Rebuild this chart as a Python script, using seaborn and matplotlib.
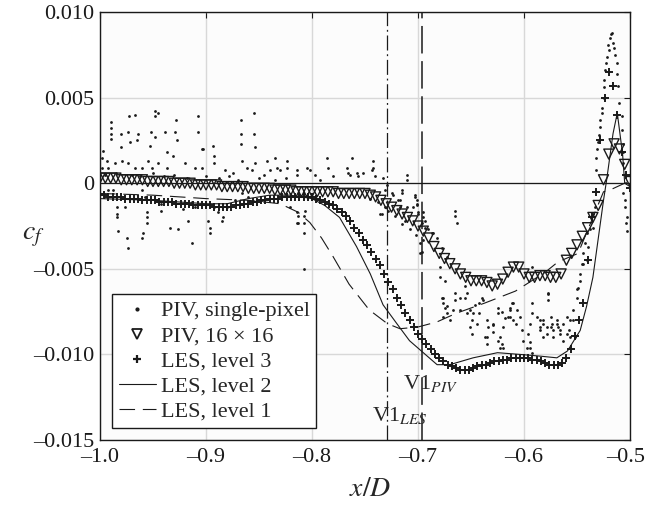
import numpy as np
import matplotlib
matplotlib.use("Agg")
import matplotlib.pyplot as plt
import matplotlib.transforms as mtransforms
from matplotlib.lines import Line2D
from matplotlib.ticker import FuncFormatter
import seaborn as sns

# PIV single-pixel (scattered points)
piv_sp_x = [
    -0.990, -0.990, -0.990, -0.990, -0.973, -0.967, -0.948, -0.945, -0.948,
    -0.928, -0.929, -0.927, -0.908, -0.908, -0.904, -0.867, -0.867, -0.867,
    -0.855, -0.855, -0.854, -0.939, -0.952, -0.964, -0.965, -0.974, -0.980,
    -0.980, -0.972, -0.953, -0.948, -0.937, -0.931, -0.937, -0.920, -0.910,
    -0.904, -0.903, -0.893, -0.892, -0.892, -0.882, -0.875, -0.866, -0.861,
    -0.857, -0.854, -0.842, -0.840, -0.998, -0.997, -0.993, -0.998, -0.992,
    -0.986, -0.979, -0.974, -0.967, -0.960, -0.955, -0.951, -0.945,
    -0.995, -0.985, -0.970, -0.962, -0.950, -0.940, -0.930, -0.918, -0.900,
    -0.888, -0.878, -0.870, -0.850, -0.845, -0.835, -0.825,
    -0.992, -0.988, -0.984, -0.984, -0.984, -0.983, -0.975, -0.976, -0.960,
    -0.958, -0.956, -0.956, -0.956, -0.959, -0.942, -0.942, -0.934, -0.926,
    -0.922, -0.917, -0.913, -0.910, -0.898, -0.896, -0.896, -0.892, -0.889,
    -0.885, -0.884, -0.880, -0.873, -0.866, -0.860, -0.847, -0.974, -0.960,
    -0.913, -0.808,
    -0.835, -0.833, -0.830, -0.824, -0.824, -0.814, -0.814, -0.805, -0.802,
    -0.797, -0.792, -0.786, -0.785, -0.780, -0.767, -0.764, -0.762, -0.757,
    -0.752, -0.743, -0.742, -0.741, -0.733, -0.710, -0.710, -0.766, -0.758,
    -0.742, -0.715, -0.715, -0.703, -0.701, -0.695, -0.693, -0.665, -0.665,
    -0.663, -0.734,
    -0.821, -0.813, -0.813, -0.808, -0.807, -0.736, -0.731, -0.725, -0.719,
    -0.717, -0.712, -0.703, -0.701, -0.700, -0.695, -0.693, -0.687, -0.814,
    -0.808, -0.814, -0.808, -0.729, -0.731, -0.724, -0.717, -0.710, -0.705,
    -0.701, -0.700, -0.696, -0.695, -0.696, -0.691, -0.686, -0.682, -0.677,
    -0.679, -0.676, -0.675, -0.745, -0.738, -0.728, -0.722, -0.715, -0.708,
    -0.702,
    -0.698, -0.698, -0.673, -0.679, -0.677, -0.676, -0.673, -0.673, -0.670,
    -0.676, -0.665, -0.665, -0.660, -0.656, -0.654, -0.654, -0.649, -0.651,
    -0.648, -0.646, -0.642, -0.639, -0.635, -0.635, -0.634, -0.629, -0.629,
    -0.625, -0.623, -0.620, -0.625, -0.621, -0.618, -0.613, -0.613, -0.610,
    -0.610, -0.607, -0.604, -0.602, -0.601, -0.597, -0.594, -0.592, -0.592,
    -0.588, -0.585, -0.585, -0.582, -0.582, -0.578, -0.577, -0.575, -0.574,
    -0.573, -0.569, -0.568, -0.566, -0.563, -0.559, -0.558, -0.557, -0.554,
    -0.554, -0.550, -0.549, -0.547, -0.545, -0.544, -0.542, -0.541,
    -0.675, -0.667, -0.660, -0.656, -0.651, -0.649, -0.644, -0.642, -0.640,
    -0.637, -0.635, -0.629, -0.625, -0.623, -0.621, -0.620, -0.615, -0.613,
    -0.611, -0.608, -0.596, -0.594, -0.592, -0.592, -0.585, -0.582, -0.578,
    -0.575, -0.573, -0.569, -0.566, -0.563, -0.559, -0.557, -0.552, -0.550,
    -0.547, -0.544, -0.541, -0.540, -0.538, -0.535, -0.535, -0.533, -0.577,
    -0.577, -0.594,
    -0.517, -0.519, -0.516, -0.521, -0.520, -0.514, -0.522, -0.523, -0.512,
    -0.524, -0.512, -0.525, -0.511, -0.525, -0.525, -0.510, -0.526, -0.526,
    -0.508, -0.528, -0.528, -0.508, -0.529, -0.530, -0.507, -0.507, -0.507,
    -0.531, -0.532, -0.532, -0.507, -0.505, -0.505, -0.503, -0.504, -0.503,
    -0.518, -0.515,
]
piv_sp_y = [
    0.0036, 0.0032, 0.0029, 0.0026, 0.0039, 0.0040, 0.0042, 0.0041, 0.0039,
    0.0037, 0.0030, 0.0025, 0.0039, 0.0030, 0.0020, 0.0037, 0.0029, 0.0023,
    0.0041, 0.0029, 0.0021, 0.0030, 0.0030, 0.0029, 0.0025, 0.0030, 0.0029,
    0.0021, 0.0024, 0.0022, 0.0027, 0.0018, 0.0016, 0.0009, 0.0012, 0.0009,
    0.0009, 0.0020, 0.0022, 0.0016, 0.0012, 0.0008, 0.0006, 0.0013, 0.0009,
    0.0008, 0.0012, 0.0013, 0.0008, 0.0015, 0.0019, 0.0013, 0.0009, 0.0009,
    0.0012, 0.0013, 0.0012, 0.0009, 0.0009, 0.0013, 0.0009, 0.0012,
    0.0005, 0.0006, 0.0005, 0.0004, 0.0006, 0.0004, 0.0005, 0.0003, 0.0004,
    0.0003, 0.0004, 0.0002, 0.0003, 0.0005, 0.0002, 0.0003,
    -0.0004, -0.0004, -0.0014, -0.0018, -0.0020, -0.0028, -0.0032, -0.0014, -0.0004,
    -0.0008, -0.0017, -0.0020, -0.0023, -0.0029, -0.0016, -0.0012, -0.0026, -0.0027,
    -0.0015, -0.0022, -0.0011, -0.0014, -0.0022, -0.0026, -0.0029, -0.0014, -0.0017,
    -0.0022, -0.0020, -0.0014, -0.0010, -0.0006, -0.0008, -0.0010, -0.0038, -0.0032,
    -0.0035, -0.0050,
    0.0015, 0.0009, 0.0008, 0.0013, 0.0009, 0.0008, 0.0005, 0.0009, 0.0008,
    0.0005, 0.0002, 0.0015, 0.0009, 0.0004, 0.0009, 0.0005, 0.0015, 0.0004,
    0.0006, 0.0008, 0.0013, 0.0004, 0.0003, 0.0005, 0.0002, 0.0006, 0.0006,
    0.0009, -0.0004, -0.0006, -0.0007, -0.0012, -0.0017, -0.0022, -0.0016, -0.0019,
    -0.0023, -0.0018,
    -0.0014, -0.0019, -0.0023, -0.0029, -0.0016, -0.0018, -0.0014, -0.0006, -0.0010,
    -0.0014, -0.0022, -0.0008, -0.0013, -0.0017, -0.0020, -0.0026, -0.0029, -0.0017,
    -0.0019, -0.0023, -0.0023, -0.0001, -0.0004, -0.0007, -0.0010, -0.0014, -0.0014,
    -0.0010, -0.0018, -0.0023, -0.0033, -0.0040, -0.0027, -0.0029, -0.0032, -0.0038,
    -0.0049, -0.0067, -0.0073, -0.0009, -0.0011, -0.0016, -0.0019, -0.0024, -0.0027,
    -0.0030,
    -0.0035, -0.0041, -0.0043, -0.0055, -0.0067, -0.0070, -0.0072, -0.0076, -0.0080,
    -0.0078, -0.0064, -0.0068, -0.0074, -0.0060, -0.0064, -0.0076, -0.0080, -0.0074,
    -0.0076, -0.0071, -0.0070, -0.0068, -0.0080, -0.0090, -0.0084, -0.0083, -0.0087,
    -0.0092, -0.0096, -0.0096, -0.0073, -0.0075, -0.0079, -0.0074, -0.0078, -0.0070,
    -0.0080, -0.0074, -0.0078, -0.0086, -0.0092, -0.0096, -0.0093, -0.0049, -0.0076,
    -0.0078, -0.0080, -0.0086, -0.0082, -0.0090, -0.0084, -0.0064, -0.0078, -0.0082,
    -0.0086, -0.0080, -0.0084, -0.0088, -0.0082, -0.0078, -0.0086, -0.0090, -0.0080,
    -0.0074, -0.0067, -0.0061, -0.0053, -0.0047, -0.0041, -0.0035, -0.0029,
    -0.0057, -0.0074, -0.0067, -0.0067, -0.0084, -0.0088, -0.0082, -0.0076, -0.0067,
    -0.0090, -0.0094, -0.0082, -0.0076, -0.0090, -0.0094, -0.0084, -0.0078, -0.0073,
    -0.0070, -0.0082, -0.0088, -0.0096, -0.0099, -0.0070, -0.0084, -0.0080, -0.0088,
    -0.0084, -0.0090, -0.0082, -0.0086, -0.0092, -0.0088, -0.0080, -0.0090, -0.0062,
    -0.0057, -0.0047, -0.0045, -0.0037, -0.0027, -0.0026, -0.0018, -0.0014, -0.0065,
    -0.0068, -0.0082,
    0.0088, 0.0085, 0.0082, 0.0081, 0.0078, 0.0075, 0.0074, 0.0070, 0.0070,
    0.0066, 0.0064, 0.0060, 0.0057, 0.0056, 0.0050, 0.0047, 0.0044, 0.0041,
    0.0039, 0.0037, 0.0033, 0.0031, 0.0028, 0.0024, 0.0023, 0.0018, 0.0012,
    0.0020, 0.0015, 0.0008, -0.0006, -0.0010, -0.0014, -0.0020, -0.0023, -0.0028,
    0.0087, 0.0079,
]

# PIV 16 x 16 windows, sampled every 0.005 x/D
piv16_x = np.linspace(-1.0, -0.5, 101)
piv16_y = [
    0.0003, 0.0003, 0.0003, 0.0003, 0.0002, 0.0002, 0.0002, 0.0002, 0.0002, 0.0001,
    0.0001, 0.0001, 0.0001, 0.0001, 0.0000, 0.0000, 0.0000, 0.0000, -0.0001, -0.0001,
    -0.0001, -0.0001, -0.0001, -0.0002, -0.0002, -0.0002, -0.0002, -0.0002, -0.0003, -0.0003,
    -0.0003, -0.0003, -0.0003, -0.0004, -0.0004, -0.0004, -0.0004, -0.0005, -0.0005, -0.0005,
    -0.0005, -0.0005, -0.0005, -0.0005, -0.0005, -0.0006, -0.0006, -0.0006, -0.0006, -0.0006,
    -0.0006, -0.0007, -0.0008, -0.0010, -0.0012, -0.0014, -0.0016, -0.0018, -0.0020, -0.0022,
    -0.0025, -0.0028, -0.0032, -0.0037, -0.0041, -0.0044, -0.0047, -0.0050, -0.0053, -0.0055,
    -0.0057, -0.0057, -0.0057, -0.0058, -0.0060, -0.0059, -0.0056, -0.0052, -0.0049, -0.0049,
    -0.0053, -0.0055, -0.0055, -0.0054, -0.0054, -0.0055, -0.0055, -0.0053, -0.0045, -0.0041,
    -0.0036, -0.0031, -0.0026, -0.0020, -0.0013, 0.0002, 0.0017, 0.0023, 0.0020, 0.0011,
    0.0001,
]

# LES level 3, sampled every 0.004 x/D
les3_x = np.linspace(-1.0, -0.5, 126)
les3_y = [
    -0.0007, -0.0007, -0.0008, -0.0008, -0.0008, -0.0008, -0.0009, -0.0009, -0.0009, -0.0009,
    -0.0010, -0.0010, -0.0010, -0.0010, -0.0011, -0.0011, -0.0011, -0.0011, -0.0012, -0.0012,
    -0.0012, -0.0012, -0.0013, -0.0013, -0.0013, -0.0013, -0.0013, -0.0014, -0.0014, -0.0014,
    -0.0014, -0.0014, -0.0013, -0.0013, -0.0012, -0.0012, -0.0011, -0.0011, -0.0010, -0.0010,
    -0.0009, -0.0009, -0.0009, -0.0008, -0.0008, -0.0008, -0.0008, -0.0008, -0.0008, -0.0008,
    -0.0008, -0.0009, -0.0010, -0.0011, -0.0012, -0.0013, -0.0015, -0.0017, -0.0019, -0.0022,
    -0.0026, -0.0029, -0.0033, -0.0036, -0.0040, -0.0044, -0.0048, -0.0053, -0.0058, -0.0062,
    -0.0067, -0.0071, -0.0076, -0.0080, -0.0084, -0.0088, -0.0091, -0.0094, -0.0097, -0.0100,
    -0.0102, -0.0104, -0.0106, -0.0107, -0.0108, -0.0109, -0.0109, -0.0109, -0.0108, -0.0107,
    -0.0106, -0.0106, -0.0105, -0.0104, -0.0104, -0.0103, -0.0103, -0.0102, -0.0102, -0.0102,
    -0.0102, -0.0102, -0.0103, -0.0103, -0.0104, -0.0105, -0.0106, -0.0106, -0.0106, -0.0105,
    -0.0102, -0.0097, -0.0089, -0.0080, -0.0070, -0.0045, -0.0020, -0.0005, 0.0025, 0.0050,
    0.0065, 0.0057, 0.0040, 0.0018, 0.0005, -0.0003,
]

# LES level 2 (solid line)
les2_x = [-1.0, -0.95, -0.90, -0.88, -0.86, -0.84, -0.82, -0.80, -0.788, -0.774,
          -0.758, -0.745, -0.733, -0.720, -0.708, -0.695, -0.682, -0.670, -0.648,
          -0.625, -0.604, -0.585, -0.569, -0.559, -0.547, -0.541, -0.535, -0.531,
          -0.525, -0.522, -0.516, -0.512, -0.507, -0.505, -0.500]
les2_y = [-0.0009, -0.0010, -0.0012, -0.0012, -0.0009, -0.0007, -0.0007, -0.0009,
          -0.0013, -0.0020, -0.0037, -0.0053, -0.0071, -0.0082, -0.0092, -0.0099,
          -0.0106, -0.0106, -0.0102, -0.0099, -0.0100, -0.0101, -0.0102, -0.0098,
          -0.0086, -0.0072, -0.0055, -0.0037, -0.0010, 0.0002, 0.0029, 0.0041,
          0.0017, 0.0000, -0.0002]

# LES level 1 (dashed line)
les1_x = [-1.0, -0.95, -0.90, -0.86, -0.83, -0.813, -0.802, -0.791, -0.780,
          -0.765, -0.746, -0.729, -0.717, -0.700, -0.682, -0.664, -0.637, -0.608,
          -0.580, -0.568, -0.549, -0.535, -0.525, -0.519, -0.505, -0.500]
les1_y = [-0.0006, -0.0007, -0.0009, -0.0010, -0.0012, -0.0017, -0.0023, -0.0032,
          -0.0043, -0.0059, -0.0074, -0.0082, -0.0085, -0.0084, -0.0081, -0.0076,
          -0.0070, -0.0063, -0.0052, -0.0046, -0.0041, -0.0020, -0.0005, -0.0004,
          0.0000, 0.0001]

v1_les = -0.7295
v1_piv = -0.6965

sns.set_theme(style="whitegrid")
plt.rcParams["font.family"] = ["Liberation Serif", "DejaVu Serif"]
plt.rcParams["mathtext.fontset"] = "stix"

fig = plt.figure(figsize=(6.46, 5.05), dpi=100)
ax = fig.add_axes([100 / 646, 65 / 505, 530 / 646, 428 / 505])
ax.set_facecolor("#fcfcfc")

sns.scatterplot(x=piv_sp_x, y=piv_sp_y, ax=ax, color="k", marker="o", s=4,
                linewidth=0, legend=False, zorder=3)
sns.scatterplot(x=piv16_x, y=piv16_y, ax=ax, color="k", marker="v", s=52,
                facecolor="none", edgecolor="k", linewidth=1.0, legend=False, zorder=4)
sns.scatterplot(x=les3_x, y=les3_y, ax=ax, color="k", marker="+", s=28,
                linewidth=1.4, legend=False, zorder=4)
sns.lineplot(x=les2_x, y=les2_y, ax=ax, color="k", lw=0.8, sort=False,
             estimator=None, zorder=5)
sns.lineplot(x=les1_x, y=les1_y, ax=ax, color="k", lw=0.8, sort=False,
             estimator=None, linestyle=(0, (14, 7)), zorder=5)

ax.axhline(0, color="k", lw=0.9, zorder=2)
ax.axvline(v1_les, color="k", lw=0.9, linestyle=(0, (12, 3, 1.5, 3)), zorder=2)
ax.axvline(v1_piv, color="k", lw=1.1, linestyle=(0, (18, 5)), zorder=2)

ax.text(-0.743, -0.01355, r"V1$_{LES}$", fontsize=16, va="center", ha="left")
ax.text(-0.714, -0.0117, r"V1$_{PIV}$", fontsize=16, va="center", ha="left")

ax.set_xlim(-1.0, -0.5)
ax.set_ylim(-0.015, 0.010)
ax.set_xticks([-1.0, -0.9, -0.8, -0.7, -0.6, -0.5])
ax.set_yticks([-0.015, -0.010, -0.005, 0, 0.005, 0.010])
ax.xaxis.set_major_formatter(FuncFormatter(lambda v, p: f"{v:.1f}".replace("-", "\u2013")))
ax.yaxis.set_major_formatter(FuncFormatter(
    lambda v, p: "0" if abs(v) < 1e-9 else f"{v:.3f}".replace("-", "\u2013")))
ax.tick_params(direction="in", length=4, width=0.8, top=True, right=True,
               labelsize=16, colors="k", pad=4)
ax.tick_params(axis="x", pad=6)
ax.grid(True, color="#d8d8d8", lw=1.0)
for s in ax.spines.values():
    s.set_color("k")
    s.set_linewidth(1.0)
ax.set_xlabel("")
ax.set_ylabel("")

# the last x label sits right at the figure edge; nudge it a little inwards
last_lbl = ax.get_xticklabels()[-1]
last_lbl.set_transform(last_lbl.get_transform()
                       + mtransforms.ScaledTranslation(-4 / 100, 0, fig.dpi_scale_trans))

fig.text(33 / 646, 1 - 237 / 505, r"$c_f$", fontsize=20, ha="center", va="center")
fig.text(370 / 646, 1 - 490 / 505, r"$x/D$", fontsize=20, ha="center", va="center")

handles = [
    Line2D([], [], ls="", marker="o", ms=2, color="k"),
    Line2D([], [], ls="", marker="v", ms=6.5, mfc="none", mec="k", mew=1.3),
    Line2D([], [], ls="", marker="+", ms=5.5, color="k", mew=1.6),
    Line2D([], [], color="k", lw=0.8),
    Line2D([], [], color="k", lw=0.8, ls=(0, (14, 7))),
]
labels = ["PIV, single-pixel", "PIV, 16 \u00d7 16", "LES, level 3",
          "LES, level 2", "LES, level 1"]
leg = ax.legend(handles, labels, loc="lower left", bbox_to_anchor=(0.0226, 0.028),
                borderaxespad=0, fontsize=16, frameon=True, fancybox=False,
                framealpha=1, facecolor="white", edgecolor="k", handlelength=1.67,
                handletextpad=0.22, labelspacing=0.2, borderpad=0.3)
leg.get_frame().set_linewidth(1.0)
leg.set_zorder(10)

fig.savefig("out.png", dpi=100)
